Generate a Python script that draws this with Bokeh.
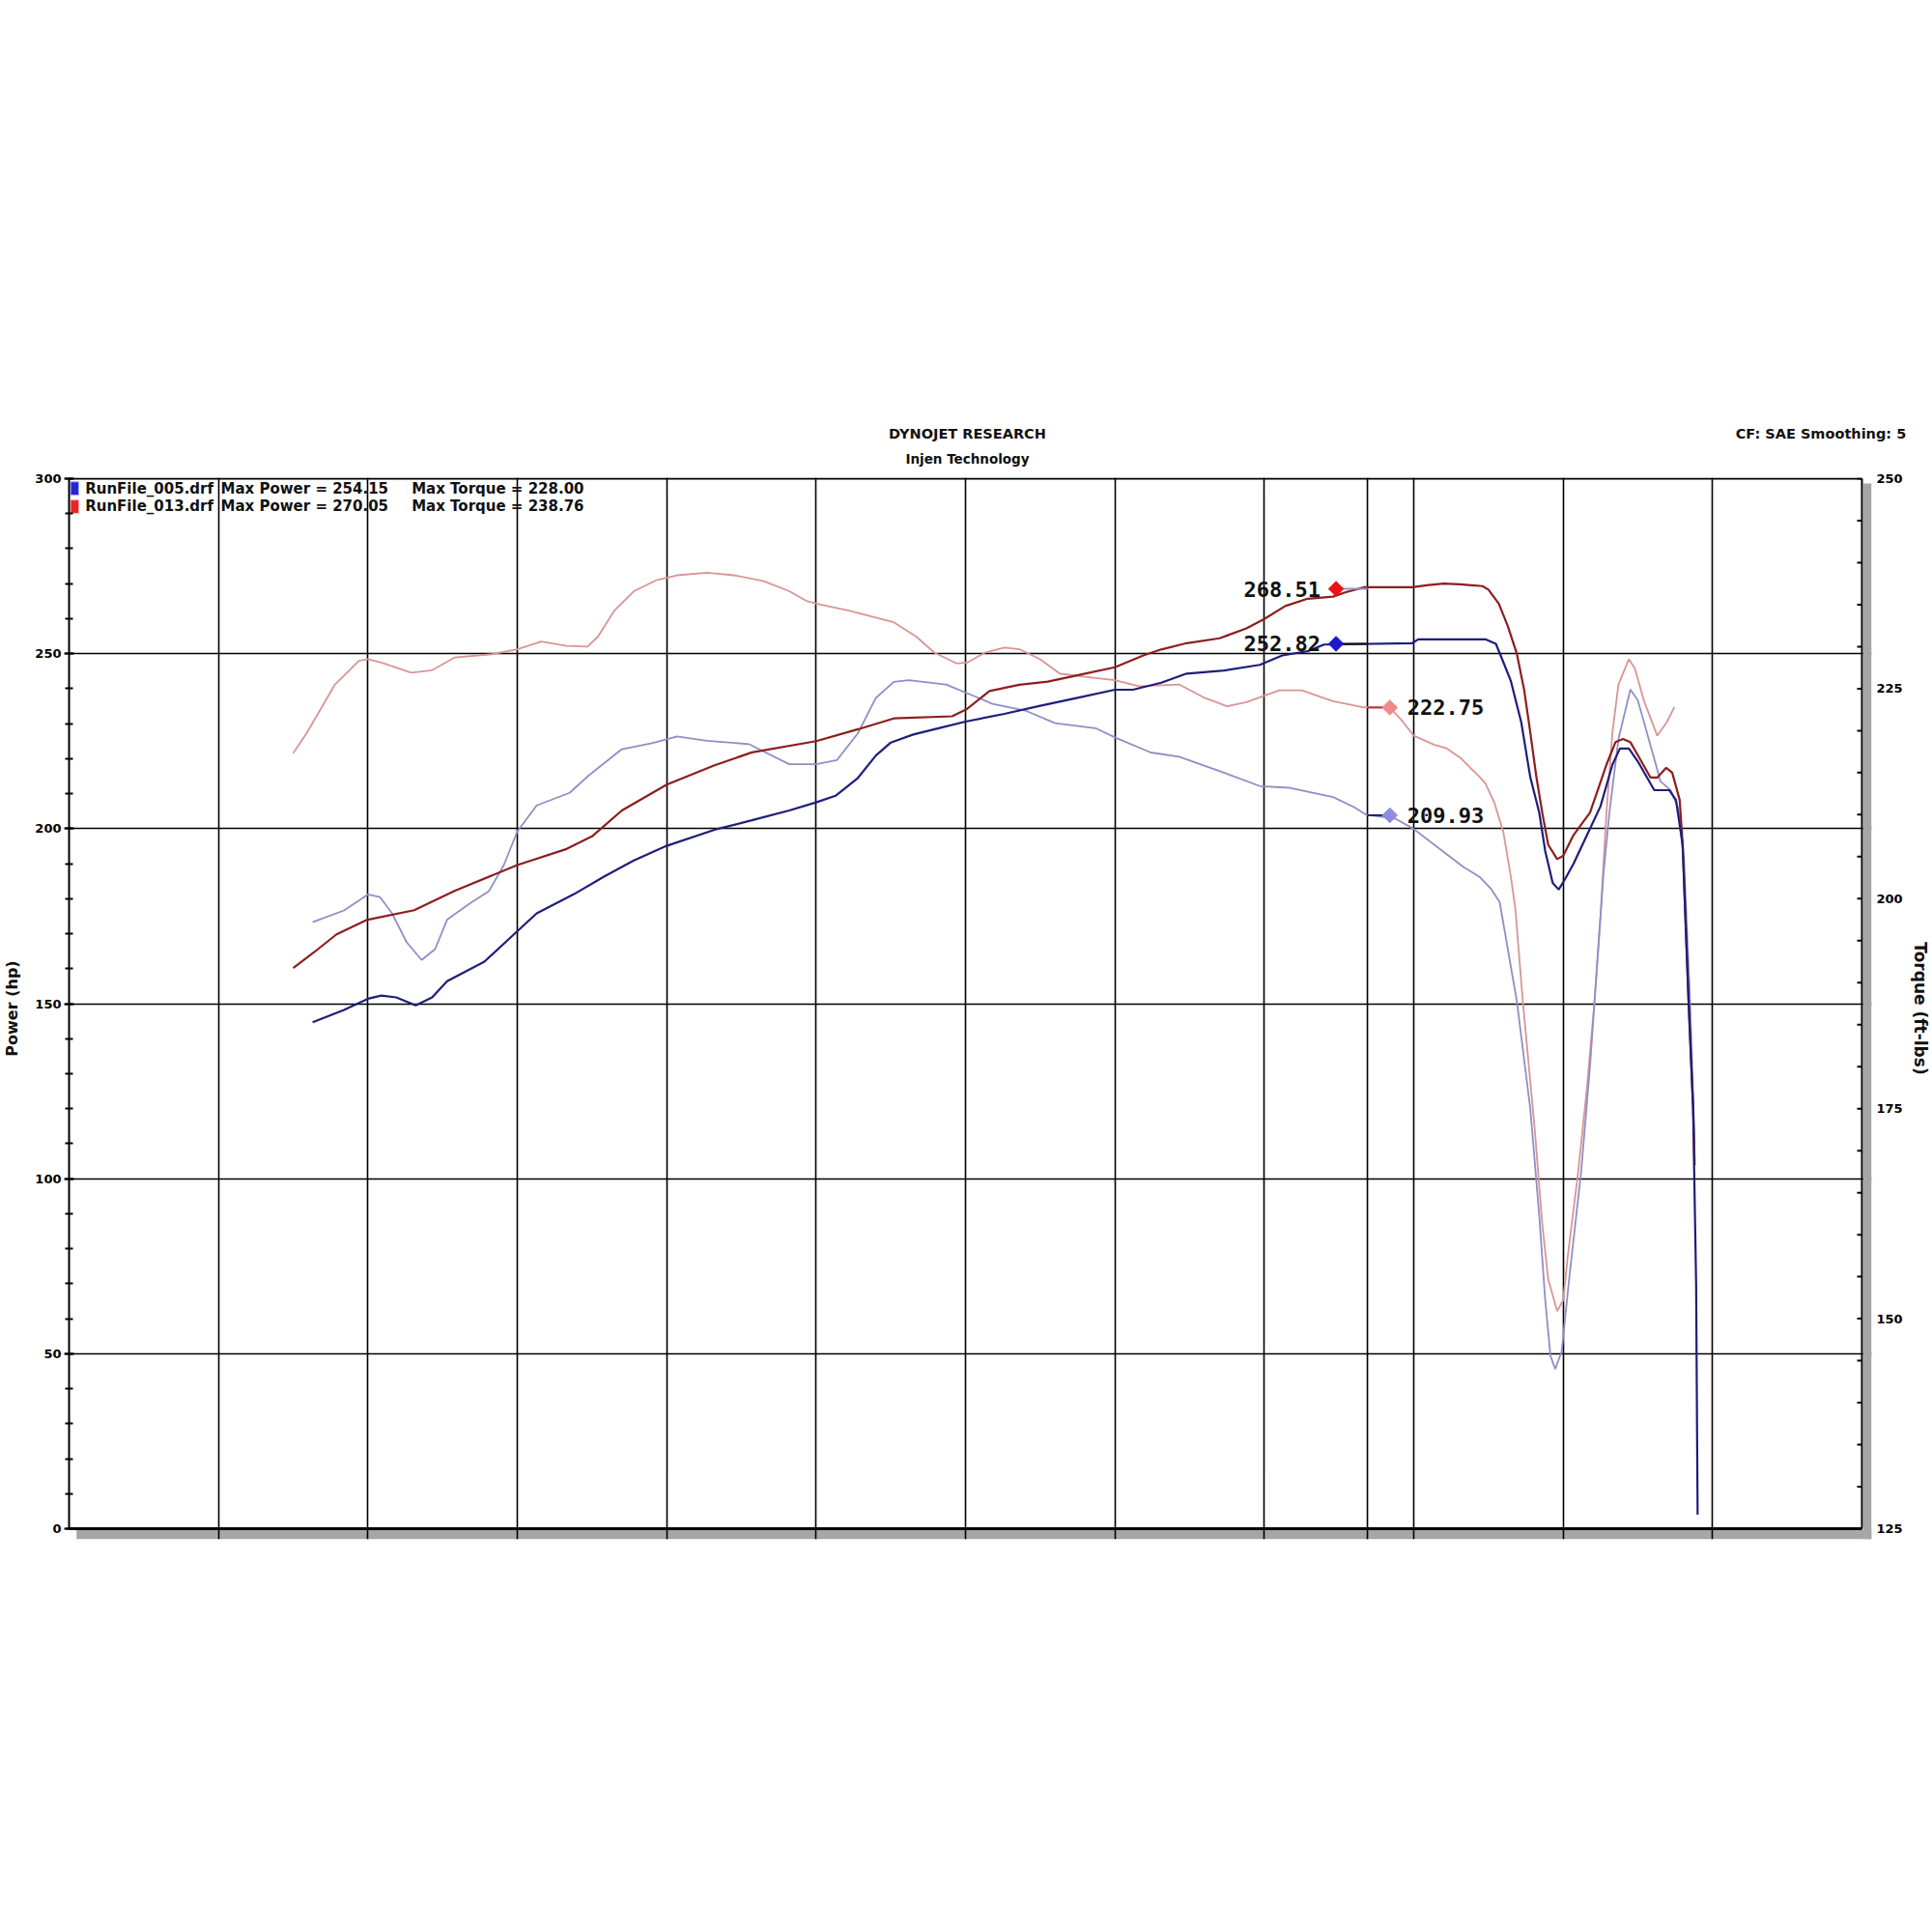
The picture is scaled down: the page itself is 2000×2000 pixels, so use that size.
import math
from bokeh.plotting import figure
from bokeh.models import (Range1d, LinearAxis, BoxAnnotation, Span, Label, FixedTicker)
from bokeh.embed import file_html
from bokeh.resources import INLINE
from bokeh.core.properties import value

# ---------------- data (x in chart grid units; no rpm labels shown) -------------
# RunFile_005 power (hp)
x_pwr_005 = [1.63, 1.84, 2.00, 2.09, 2.19, 2.32, 2.43, 2.53, 2.78, 3.00, 3.13, 3.38, 3.58,
             3.78, 4.00, 4.32, 4.57, 4.82, 5.00, 5.13, 5.28, 5.40, 5.50, 5.65, 5.82, 6.00,
             6.26, 6.50, 6.75, 7.00, 7.12, 7.31, 7.48, 7.73, 7.97, 8.12, 8.29, 8.40, 8.99,
             9.03, 9.48, 9.55, 9.59, 9.65, 9.72, 9.78, 9.84, 9.88, 9.93, 9.97, 10.01, 10.07,
             10.18, 10.25, 10.33, 10.38, 10.44, 10.50, 10.61, 10.71, 10.755, 10.80, 10.84,
             10.87, 10.89, 10.90]
pwr_005 = [144.7, 148.2, 151.4, 152.3, 151.8, 149.5, 151.8, 156.4, 162.0, 170.7, 175.8, 181.3,
           186.3, 190.9, 195.1, 199.7, 202.4, 205.2, 207.5, 209.4, 214.5, 220.9, 224.6, 226.9,
           228.7, 230.6, 232.8, 235.1, 237.4, 239.7, 239.7, 241.7, 244.3, 245.2, 246.8, 249.5,
           250.7, 252.6, 253.0, 254.1, 254.1, 252.8, 248.6, 242.2, 230.3, 214.7, 204.6, 193.6,
           184.5, 182.6, 185.4, 190.0, 200.0, 206.4, 218.3, 222.9, 222.9, 219.2, 211.0, 211.0,
           208.2, 195.4, 150.0, 120.0, 70.0, 4.0]

# RunFile_013 power (hp)
x_pwr_013 = [1.50, 1.64, 1.79, 1.99, 2.31, 2.58, 3.00, 3.33, 3.50, 3.70, 4.00, 4.32, 4.57,
             5.00, 5.28, 5.52, 5.91, 6.01, 6.16, 6.36, 6.55, 6.80, 7.00, 7.19, 7.31, 7.48,
             7.70, 7.88, 8.00, 8.14, 8.29, 8.46, 8.54, 8.67, 8.99, 9.10, 9.20, 9.31, 9.46,
             9.50, 9.57, 9.63, 9.69, 9.74, 9.78, 9.82, 9.86, 9.90, 9.96, 10.00, 10.07, 10.18,
             10.29, 10.35, 10.40, 10.45, 10.50, 10.585, 10.63, 10.69, 10.73, 10.78, 10.80,
             10.84, 10.87, 10.88]
pwr_013 = [160.2, 164.7, 169.8, 173.9, 176.7, 182.2, 189.6, 194.2, 197.8, 205.2, 212.6, 218.1,
           221.8, 225.0, 228.4, 231.5, 232.1, 234.2, 239.3, 241.1, 242.0, 244.3, 246.1, 249.5,
           251.2, 253.0, 254.4, 257.2, 259.9, 263.6, 265.7, 266.3, 267.5, 269.0, 269.0, 269.6,
           270.0, 269.8, 269.3, 268.3, 264.2, 257.8, 250.0, 239.4, 227.5, 215.0, 204.6, 195.4,
           191.3, 192.2, 198.2, 204.6, 218.3, 224.7, 225.6, 224.7, 221.0, 214.6, 214.6, 217.4,
           216.0, 208.2, 195.4, 150.6, 120.0, 103.9]

# RunFile_005 torque (ft-lbs)
x_tq_005 = [1.63, 1.84, 2.00, 2.08, 2.16, 2.26, 2.36, 2.45, 2.53, 2.68, 2.81, 2.91, 3.00,
            3.13, 3.35, 3.48, 3.70, 3.90, 4.07, 4.27, 4.55, 4.82, 5.00, 5.14, 5.28, 5.40,
            5.52, 5.62, 5.87, 6.06, 6.18, 6.40, 6.60, 6.87, 7.00, 7.24, 7.43, 7.73, 7.97,
            8.17, 8.46, 8.60, 8.68, 8.88, 9.00, 9.22, 9.33, 9.44, 9.52, 9.575, 9.69, 9.78,
            9.84, 9.88, 9.915, 9.947, 9.99, 10.04, 10.12, 10.18, 10.22, 10.27, 10.31, 10.37,
            10.45, 10.50, 10.56, 10.62, 10.65, 10.72, 10.77, 10.81, 10.85, 10.88]
tq_005 = [197.2, 198.6, 200.5, 200.2, 198.3, 194.8, 192.7, 194.0, 197.5, 199.4, 200.9, 204.0,
          208.0, 211.1, 212.6, 214.7, 217.8, 218.5, 219.3, 218.8, 218.4, 216.0, 216.0, 216.5,
          219.7, 223.9, 225.8, 226.0, 225.5, 224.1, 223.2, 222.4, 220.9, 220.3, 219.2, 217.4,
          216.9, 215.0, 213.4, 213.2, 212.1, 210.9, 210.0, 209.5, 208.3, 205.3, 203.8, 202.6,
          201.1, 199.6, 187.8, 175.0, 162.3, 152.2, 145.6, 144.0, 146.1, 154.7, 167.4, 180.1,
          190.3, 203.0, 210.3, 219.0, 224.9, 223.6, 219.8, 216.0, 214.0, 212.9, 210.8, 204.2,
          187.5, 170.8]

# RunFile_013 torque (ft-lbs)
x_tq_013 = [1.50, 1.59, 1.78, 1.94, 2.00, 2.09, 2.29, 2.43, 2.58, 2.83, 3.00, 3.16, 3.33,
            3.47, 3.54, 3.65, 3.78, 3.93, 4.07, 4.27, 4.45, 4.65, 4.82, 4.94, 5.03, 5.22,
            5.52, 5.67, 5.79, 5.94, 6.01, 6.13, 6.26, 6.36, 6.50, 6.63, 6.80, 7.00, 7.16,
            7.43, 7.60, 7.75, 7.88, 8.10, 8.25, 8.46, 8.66, 8.84, 8.93, 9.00, 9.14, 9.22,
            9.31, 9.44, 9.48, 9.54, 9.60, 9.65, 9.68, 9.73, 9.81, 9.86, 9.90, 9.96, 10.00,
            10.03, 10.10, 10.16, 10.21, 10.25, 10.29, 10.33, 10.37, 10.44, 10.48, 10.54,
            10.63, 10.69, 10.745]
tq_013 = [217.3, 219.7, 225.5, 228.3, 228.5, 228.1, 226.9, 227.2, 228.7, 229.1, 229.7, 230.6,
          230.1, 230.0, 231.2, 234.3, 236.6, 237.9, 238.5, 238.8, 238.5, 237.8, 236.6, 235.4,
          235.0, 234.3, 232.9, 231.2, 229.3, 228.0, 228.1, 229.3, 229.9, 229.7, 228.5, 226.8,
          226.4, 226.0, 225.3, 225.5, 223.9, 222.9, 223.4, 224.8, 224.8, 223.5, 222.8, 222.8,
          221.0, 219.4, 218.3, 217.9, 216.8, 214.5, 213.7, 211.4, 207.9, 202.6, 198.8, 187.8,
          172.5, 161.3, 154.7, 150.9, 152.2, 157.3, 167.4, 177.6, 187.8, 197.9, 210.3, 219.8,
          225.5, 228.5, 227.4, 223.6, 219.4, 220.9, 222.8]

# cursor readouts
cursor_x = 8.69
pwr_mark_x = [8.48, 8.48]
pwr_mark_val = [268.51, 252.82]
tq_mark_x = [8.84, 8.84]
tq_mark_val = [222.75, 209.93]

legend_files = ["RunFile_005.drf", "RunFile_013.drf"]
legend_power = ["Max Power = 254.15", "Max Power = 270.05"]
legend_torque = ["Max Torque = 228.00", "Max Torque = 238.76"]

header_main = "DYNOJET RESEARCH"
header_sub = "Injen Technology"
header_right = "CF: SAE  Smoothing: 5"

power_ticks = [0, 50, 100, 150, 200, 250, 300]
torque_ticks = [125, 150, 175, 200, 225, 250]
X_MAX = 12
P_MAX = 300

# ---------------- styling ----------------
C_PWR_005 = "#1e1e7a"
C_PWR_013 = "#8c1e1e"
C_TQ_005 = "#8f8fc6"
C_TQ_013 = "#d99595"
FONT = "DejaVu Sans"

PX_X = 1856 / 12.0          # px per x unit
PX_Y = 1087 / 300.0         # px per hp
SH = 11                     # shadow thickness px

p = figure(frame_width=1866, frame_height=1099,
           x_range=Range1d(0, X_MAX + 10 / PX_X),
           y_range=Range1d(-SH / PX_Y, P_MAX + 1 / PX_Y),
           output_backend="svg", toolbar_location=None,
           min_border_left=70, min_border_right=64,
           min_border_top=494, min_border_bottom=407,
           background_fill_color="white", border_fill_color="white")
p.title.visible = False
p.extra_y_ranges = {"tq": Range1d(125 - SH / PX_Y * 125 / 300, 250 + 1 / PX_Y * 125 / 300)}
p.extra_x_ranges = {"hdr": Range1d(0, 1866)}
p.outline_line_color = None

p.xaxis.visible = False
p.xgrid.ticker = FixedTicker(ticks=list(range(1, X_MAX)))
p.ygrid.ticker = FixedTicker(ticks=power_ticks[1:-1])
for g in (p.xgrid[0], p.ygrid[0]):
    g.grid_line_color = "black"
    g.grid_line_width = 1.6

ly = p.left[0]
ly.ticker = FixedTicker(ticks=power_ticks, minor_ticks=list(range(0, 301, 10)))
ly.bounds = (0, P_MAX)
ly.axis_line_color = "black"
ly.axis_line_width = 2
ly.major_tick_in = 5
ly.major_tick_out = 5
ly.minor_tick_in = 4
ly.minor_tick_out = 4
ly.major_tick_line_width = 2
ly.minor_tick_line_width = 2
ly.major_label_standoff = 3
ly.major_label_text_font = FONT
ly.major_label_text_font_style = "bold"
ly.major_label_text_font_size = "13px"
ly.major_label_text_color = "black"
ly.axis_label = "Power (hp)"
ly.axis_label_standoff = 11
ly.axis_label_text_font = FONT
ly.axis_label_text_font_style = "bold"
ly.axis_label_text_font_size = "16px"
ly.axis_label_text_color = "#111111"

ry = LinearAxis(y_range_name="tq", ticker=FixedTicker(ticks=torque_ticks))
ry.bounds = (125, 250)
ry.axis_line_color = None
ry.major_tick_line_color = None
ry.minor_tick_line_color = None
ry.major_tick_in = 0
ry.major_tick_out = 0
ry.major_label_standoff = 5
ry.major_label_text_font = FONT
ry.major_label_text_font_style = "bold"
ry.major_label_text_font_size = "13px"
ry.major_label_text_color = "black"
ry.axis_label = "Torque (ft-lbs)"
ry.axis_label_standoff = 5
ry.axis_label_text_font = FONT
ry.axis_label_text_font_style = "bold"
ry.axis_label_text_font_size = "17px"
ry.axis_label_text_color = "#111111"
p.add_layout(ry, "right")


def header_axis(ticks, labels, size, standoff):
    ax = LinearAxis(x_range_name="hdr", ticker=FixedTicker(ticks=ticks),
                    major_label_overrides=dict(zip(ticks, labels)))
    ax.axis_line_color = None
    ax.major_tick_line_color = None
    ax.minor_tick_line_color = None
    ax.major_tick_in = 0
    ax.major_tick_out = 0
    ax.major_label_standoff = standoff
    ax.major_label_text_font = FONT
    ax.major_label_text_font_style = "bold"
    ax.major_label_text_font_size = size
    ax.major_label_text_color = "#111111"
    return ax


p.add_layout(header_axis([930], [header_sub], "13.5px", 12), "above")
p.add_layout(header_axis([930, 1816], [header_main, header_right], "14.5px", 7), "above")

# 3D frame shadow (bottom band lies under the grid lines, right band over them)
p.add_layout(BoxAnnotation(left=0.05, right=X_MAX + 10 / PX_X, top=-1.4 / PX_Y,
                           bottom=-SH / PX_Y, fill_color="#a6a6a6", fill_alpha=1,
                           line_color=None, level="image"))
p.add_layout(BoxAnnotation(left=X_MAX + 1.2 / PX_X, right=X_MAX + 10 / PX_X, top=298.6,
                           bottom=-SH / PX_Y, fill_color="#a6a6a6", fill_alpha=1,
                           line_color=None))

# frame border
p.segment(x0=[0, 0, X_MAX], y0=[0, P_MAX, 0], x1=[X_MAX, X_MAX, X_MAX], y1=[0, P_MAX, P_MAX],
          line_color="black", line_width=[3, 2, 2])
# right-axis tick marks (inside the frame)
rt = list(range(125, 251, 5))
p.segment(x0=[X_MAX - 5 / PX_X] * len(rt), y0=rt, x1=[X_MAX] * len(rt), y1=rt,
          y_range_name="tq", line_color="black", line_width=2)

# cursor line
p.add_layout(Span(location=cursor_x, dimension="height", line_color="black",
                  line_width=1.6, level="underlay"))

# curves
p.line(x_tq_013, tq_013, y_range_name="tq", line_color=C_TQ_013, line_width=1.8)
p.line(x_tq_005, tq_005, y_range_name="tq", line_color=C_TQ_005, line_width=1.8)
p.line(x_pwr_013, pwr_013, line_color=C_PWR_013, line_width=2.2)
p.line(x_pwr_005, pwr_005, line_color=C_PWR_005, line_width=2.2)

# leaders from cursor to readout markers
p.segment(x0=[pwr_mark_x[0]], y0=[pwr_mark_val[0]], x1=[cursor_x], y1=[pwr_mark_val[0]],
          line_color="#9a8ed0", line_width=2)
p.segment(x0=[pwr_mark_x[1]], y0=[pwr_mark_val[1]], x1=[cursor_x], y1=[pwr_mark_val[1]],
          line_color="#111111", line_width=2)
p.segment(x0=[cursor_x], y0=[tq_mark_val[0]], x1=[tq_mark_x[0]], y1=[tq_mark_val[0]],
          y_range_name="tq", line_color="#c03030", line_width=2)
p.segment(x0=[cursor_x], y0=[tq_mark_val[1]], x1=[tq_mark_x[1]], y1=[tq_mark_val[1]],
          y_range_name="tq", line_color="#202080", line_width=2)

# readout markers
p.scatter(pwr_mark_x, pwr_mark_val, marker="square", angle=math.pi / 4, size=11,
          fill_color=["#ee1111", "#1a1acc"], line_color=["#ee1111", "#1a1acc"])
p.scatter(tq_mark_x, tq_mark_val, marker="square", angle=math.pi / 4, size=11,
          y_range_name="tq",
          fill_color=["#f08a8a", "#8c8ce0"], line_color=["#f08a8a", "#8c8ce0"])

p.text(pwr_mark_x, pwr_mark_val, text=[f"{v:.2f}" for v in pwr_mark_val],
       x_offset=-16, text_align="right", text_baseline="middle",
       text_font=value("DejaVu Sans Mono"), text_font_style="bold",
       text_font_size="22px", text_color="#111111")
p.text(tq_mark_x, tq_mark_val, text=[f"{v:.2f}" for v in tq_mark_val],
       y_range_name="tq", x_offset=18, text_align="left", text_baseline="middle",
       text_font=value("DejaVu Sans Mono"), text_font_style="bold",
       text_font_size="22px", text_color="#111111")

# legend (top-left inside frame)
row_y = [297.2, 292.0]
sq_colors = ["#2424dd", "#ee2222"]
for i in range(2):
    p.quad(left=[0.01], right=[0.065], top=[row_y[i] + 1.9], bottom=[row_y[i] - 1.9],
           fill_color=sq_colors[i], line_color="#b0b0ff" if i == 0 else "#ffb0b0",
           line_width=1)
    for xx, txt in ((0.108, legend_files[i]), (1.015, legend_power[i]),
                    (2.293, legend_torque[i])):
        p.add_layout(Label(x=xx, y=row_y[i], text=txt, text_align="left",
                           text_baseline="middle", text_font=FONT,
                           text_font_style="bold", text_font_size="15px",
                           text_color="#111111"))

open("out.html", "w").write(file_html(p, INLINE))
